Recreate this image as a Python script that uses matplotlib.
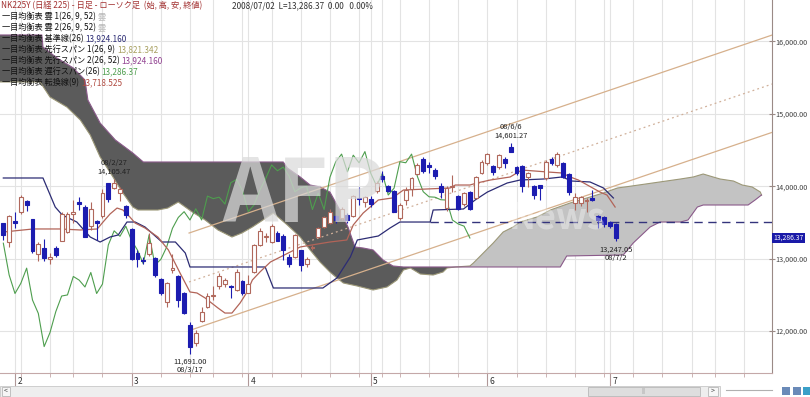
import numpy as np
import pandas as pd
import matplotlib
matplotlib.use('Agg')
import matplotlib.pyplot as plt
import matplotlib.transforms as mtrans
from matplotlib.patches import Rectangle

plt.rcParams['font.family'] = ['Noto Sans CJK JP', 'DejaVu Sans']

# trading days (index 0 = 2008/01/30, index 105 = 2008/07/02), continued for the cloud
holidays = pd.to_datetime(['2008-02-11', '2008-03-20', '2008-04-29', '2008-05-05',
                           '2008-05-06', '2008-07-21'])
days = pd.bdate_range('2008-01-30', '2008-08-20')
days = days[~days.isin(holidays)]

# daily candles
opens = [13490, 13235, 13520, 13640, 13800, 13545, 13065, 13145, 13000, 13155,
         13250, 13375, 13620, 13780, 13720, 13450, 13525, 13590, 14040, 13980,
         13905, 13730, 13410, 13085, 12980, 13065, 13015, 12715, 12400, 12850,
         12755, 12520, 12085, 11830, 12140, 12330, 12490, 12625, 12650, 12625,
         12570, 12695, 12530, 12820, 13190, 13300, 13235, 13360, 13315, 13030,
         13030, 13120, 12925, 13150, 13300, 13440, 13500, 13590, 13560, 13600,
         13590, 13840, 13790, 13820, 13940, 14140, 14005, 13940, 13560, 13810,
         13960, 14170, 14375, 14290, 14225, 14005, 13700, 13990, 13865, 13755,
         13925, 13835, 14190, 14325, 14275, 14270, 14375, 14540, 14265, 14275,
         14125, 14005, 14015, 14110, 14375, 14295, 14320, 14170, 13765, 13765,
         13800, 13835, 13590, 13580, 13505, 13480]
highs = [13500, 13600, 13650, 13880, 13810, 13550, 13235, 13270, 13080, 13170,
         13640, 13650, 13810, 13850, 13740, 13780, 13535, 13960, 14050, 14105.47,
         13985, 13740, 13420, 13120, 13020, 13350, 13030, 12730, 12680, 13065,
         12770, 12540, 12130, 12015, 12330, 12520, 12620, 12800, 12730, 12635,
         12860, 12710, 12775, 13200, 13420, 13350, 13480, 13380, 13340, 13060,
         13345, 13125, 13030, 13190, 13440, 13590, 13680, 13610, 13720, 13630,
         13880, 13985, 13870, 13860, 14070, 14215, 14020, 13950, 13770, 13990,
         14130, 14320, 14400, 14340, 14250, 14040, 14010, 14155, 13880, 13920,
         13940, 14140, 14360, 14460, 14290, 14440, 14400, 14601.27, 14280, 14300,
         14200, 14020, 14020, 14360, 14410, 14470, 14340, 14180, 13910, 13870,
         13835, 13950, 13600, 13590, 13520, 13490]
lows = [13260, 13165, 13430, 13620, 13660, 13080, 12970, 12970, 12925, 13030,
        13240, 13360, 13490, 13670, 13300, 13400, 13260, 13560, 13790, 13960,
        13800, 13560, 12980, 12880, 12930, 13035, 12750, 12500, 12340, 12800,
        12340, 12230, 11691.00, 11795, 12130, 12320, 12430, 12580, 12610, 12460,
        12560, 12500, 12520, 12800, 13170, 13230, 13220, 13240, 12985, 12890,
        13010, 12830, 12880, 13120, 13280, 13420, 13480, 13500, 13540, 13500,
        13570, 13740, 13720, 13720, 13910, 14065, 13920, 13640, 13540, 13740,
        13860, 14150, 14190, 14190, 14100, 13835, 13655, 13925, 13670, 13730,
        13670, 13820, 14170, 14300, 14150, 14240, 14250, 14470, 14150, 13920,
        13995, 13830, 13810, 14090, 14300, 14270, 14120, 13880, 13675, 13730,
        13640, 13800, 13420, 13440, 13430, 13247.05]
closes = [13330, 13590, 13490, 13850, 13740, 13100, 13200, 13005, 13030, 13050,
          13620, 13620, 13640, 13755, 13305, 13680, 13500, 13910, 13820, 14050,
          13960, 13605, 12990, 12990, 12970, 13215, 12775, 12520, 12660, 12870,
          12430, 12245, 11787, 11980, 12270, 12485, 12500, 12755, 12705, 12610,
          12810, 12520, 12650, 13190, 13385, 13310, 13450, 13250, 13120, 12930,
          13330, 12915, 12990, 13160, 13420, 13570, 13650, 13535, 13690, 13535,
          13865, 13830, 13850, 13755, 14050, 14095, 13940, 13650, 13745, 13950,
          14110, 14295, 14215, 14265, 14140, 13925, 13980, 14000, 13680, 13905,
          13680, 14125, 14340, 14445, 14200, 14430, 14325, 14480, 14180, 14005,
          14180, 13880, 13975, 14340, 14325, 14445, 14135, 13925, 13855, 13850,
          13815, 13810, 13535, 13480, 13450, 13286.37]

# ichimoku lines (bar index, price)
tenkan_k = [0, 5.1, 9.7, 13.2, 16.1, 17.1, 18.3, 19.5, 20.5, 21.7, 22.6, 24.3, 26.5, 28.3,
            30.3, 32.0, 33.2, 34.6, 36.8, 38.0, 39.2, 40.6, 41.8, 42.7, 44.0, 45.8, 50.9,
            52.9, 56.0, 58.9, 60.0, 61.7, 64.3, 66.7, 68.6, 76.6, 77.5, 80.0, 81.2, 83.5,
            86.9, 88.9, 93.3, 95.8, 97.2, 98.6, 102.3, 103.5, 104.9]
tenkan_v = [13369, 13411, 13411, 13397, 13411, 13507, 13618, 13700, 13673, 13576, 13493,
            13424, 13300, 13121, 12803, 12541, 12527, 12458, 12320, 12250, 12250, 12389,
            12541, 12706, 12817, 12955, 13162, 13190, 13231, 13259, 13466, 13631, 13811,
            13839, 13949, 13977, 14018, 14018, 14046, 14087, 14129, 14225, 14198, 14184,
            14129, 14087, 13921, 13880, 13714]
kijun_k = [0, 6.8, 8.9, 10.1, 12.6, 14.9, 16.6, 18.3, 19.7, 21.2, 22.6, 24.3, 27.2, 29.5,
           31.2, 32.0, 44.9, 46.3, 54.8, 57.2, 59.5, 60.7, 64.3, 66.3, 68.0, 73.2, 73.7,
           78.9, 80.9, 83.0, 86.4, 88.6, 92.6, 95.8, 97.5, 100.6, 102.9, 104.6]
kijun_v = [14115, 14115, 13714, 13604, 13507, 13300, 13231, 13300, 13328, 13507, 13507,
           13438, 13231, 13231, 13079, 12886, 12886, 12596, 12596, 12734, 13024, 13259,
           13314, 13424, 13507, 13507, 13673, 13687, 13811, 13921, 14046, 14087, 14101,
           14129, 14073, 14060, 13977, 13839]
span_a_k = [-0.6, 6.3, 8.0, 10.9, 13.2, 14.9, 16.6, 18.8, 20.5, 22.2, 23.1, 26.5, 28.2, 30.0,
            32.4, 34.6, 36.8, 39.2, 40.9, 42.7, 44.0, 46.3, 48.7, 50.9, 52.6, 54.3, 56.0,
            57.2, 58.3, 60.7, 63.4, 65.8, 67.5, 68.6, 69.8, 71.5, 73.7, 75.4, 76.1, 77.5,
            80.0, 80.6, 82.3, 84.0, 85.7, 87.4, 88.6, 91.5, 93.8, 97.2, 100.6, 102.9, 105.3,
            106.6, 116.1, 118.3, 120.0, 121.7, 122.9, 125.2, 126.7, 128.4, 129.8, 130.0]
span_a_v = [15441, 15441, 15233, 15095, 14916, 14709, 14405, 14129, 13908, 13714, 13673,
            13673, 13700, 13783, 13645, 13535, 13397, 13300, 13355, 13438, 13507, 13631,
            13466, 13300, 13121, 12955, 12817, 12734, 12665, 12623, 12568, 12610, 12706,
            12844, 12872, 12789, 12775, 12817, 12872, 12886, 12900, 12941, 13079, 13217,
            13369, 13438, 13507, 13576, 13673, 13770, 13852, 13908, 13977, 13991, 14101,
            14129, 14170, 14129, 14101, 14073, 14018, 13991, 13921, 13880]
span_b_k = [-0.6, 6.6, 6.8, 9.2, 12.0, 14.0, 14.5, 16.6, 19.2, 22.2, 24.0, 48.0, 48.7, 50.9,
            52.6, 54.3, 56.0, 57.7, 59.1, 60.3, 61.7, 63.4, 65.1, 66.8, 68.6, 77.1, 95.5,
            96.6, 106.3, 108.0, 110.9, 112.6, 116.1, 117.4, 119.0, 120.0, 127.7, 128.9, 130.0]
span_b_v = [16090, 16090, 15924, 15772, 15634, 15468, 15192, 14874, 14640, 14460, 14336,
            14336, 14253, 14129, 14018, 13991, 13921, 13673, 13438, 13162, 13148, 13121,
            12983, 12900, 12886, 12886, 12886, 13038, 13052, 13217, 13438, 13507, 13507,
            13535, 13714, 13742, 13742, 13811, 13880]
chikou_shift = 25

# drawn trend channel (bar index, price) and horizontal line
channel_k = [31.85, 131.85]
channel_upper = [13355, 16090]
channel_mid = [12679, 15413]
channel_lower_k = [32.5, 131.85]
channel_lower = [12025, 14746]
hline_level = 13507
hline_from = 73.2

legend_vals = {'kijun': '13,924.160', 'span1': '13,821.342', 'span2': '13,924.160',
               'chikou': '13,286.37', 'tenkan': '13,718.525'}
last_price = 13286.37
marks = [(19, 'high', '08/2/27'), (87, 'high', '08/6/6'),
         (32, 'low', '08/3/17'), (105, 'low', '08/7/2')]

opens, highs, lows, closes = map(np.array, (opens, highs, lows, closes))
k = np.arange(len(closes))

fig = plt.figure(figsize=(8.1, 3.97), dpi=100)
ax = fig.add_axes([0, 1 - 373 / 397, 772 / 810, 373 / 397])
ax.set_xlim(-0.57, 131.8)
ax.set_ylim(11422, 16573)

# grid: weekly verticals, 1000 horizontals
week_starts = [i for i in range(1, len(days)) if days[i].weekday() < days[i - 1].weekday() and i < 132]
month_starts = [i for i in range(1, 106) if days[i].month != days[i - 1].month]
ax.set_xticks(month_starts)
ax.set_xticks(week_starts, minor=True)
ax.set_xticklabels([])
for x in sorted(set(week_starts + month_starts)):
    ax.axvline(x, color='#e3e3e3', lw=0.8, zorder=0)
yt = [12000, 13000, 14000, 15000, 16000]
ax.set_yticks(yt)
ax.set_yticklabels([f'{v:,.2f}' for v in yt])
for v in yt:
    ax.axhline(v, color='#e3e3e3', lw=0.8, zorder=0)

# cloud
ak, av = np.array(span_a_k), np.array(span_a_v)
bk, bv = np.array(span_b_k), np.array(span_b_v)
m_a, m_b = ak <= 77.5, bk <= 77.5
ax.fill(np.r_[bk[m_b], ak[m_a][::-1]], np.r_[bv[m_b], av[m_a][::-1]],
        color='#5b5b5b', lw=0, zorder=1)
m_a, m_b = ak >= 77.5, bk >= 77.1
ax.fill(np.r_[ak[m_a], bk[m_b][::-1]], np.r_[av[m_a], bv[m_b][::-1]],
        color='#c3c3c3', lw=0, zorder=1)
ax.plot(ak, av, color='#9c9878', lw=0.8, zorder=2)
ax.plot(bk, bv, color='#8a5a8a', lw=0.8, zorder=2)

# channel lines
ax.plot(channel_k, channel_upper, color='#d6b08c', lw=0.9, zorder=3)
ax.plot(channel_k, channel_mid, color='#d0b09a', lw=0.9, ls=(0, (1.5, 2.5)), zorder=3)
ax.plot(channel_lower_k, channel_lower, color='#d6b08c', lw=0.9, zorder=3)
ax.hlines(hline_level, hline_from, 131.8, colors='#34347c', lw=1.0,
          linestyles=(0, (6, 4)), zorder=3)

# ichimoku lines
ax.plot(k[:-chikou_shift], closes[chikou_shift:], color='#4e9e4e', lw=0.8, zorder=4)
ax.plot(kijun_k, kijun_v, color='#2c2c74', lw=0.9, zorder=4)
ax.plot(tenkan_k, tenkan_v, color='#b26458', lw=0.9, zorder=4)

# candles
up_col, dn_col = '#b0685c', '#1c1cb0'
up = closes >= opens
lo = np.minimum(opens, closes)
hgt = np.maximum(np.abs(closes - opens), 12)
ax.vlines(k, lows, highs, colors=np.where(up, up_col, dn_col), lw=0.8, zorder=5)
ax.bar(k[up], hgt[up], 0.66, bottom=lo[up], facecolor='white', edgecolor=up_col, lw=0.8, zorder=6)
ax.bar(k[~up], hgt[~up], 0.66, bottom=lo[~up], facecolor=dn_col, edgecolor=dn_col, lw=0.8, zorder=6)

# high / low marks
for i, kind, date in marks:
    if kind == 'high':
        val, o1, o2 = highs[i], 5, 11.5
    else:
        val, o1, o2 = lows[i], -6, -12
    ax.annotate(f'{val:,.2f}', (i, val), xytext=(0, o1), textcoords='offset points',
                ha='center', va='center', fontsize=5.4, color='#222222', zorder=8)
    ax.annotate(date, (i, val), xytext=(0, o2), textcoords='offset points',
                ha='center', va='center', fontsize=5.4, color='#222222', zorder=8)

# watermark
ax.text(51.5, 13850, 'AFP', fontsize=62, fontweight='bold', style='italic', color='#dadada',
        alpha=0.72, ha='center', va='center', zorder=7)
ax.text(95, 13560, 'News', fontsize=26, fontweight='bold', color='white',
        alpha=0.35, ha='center', va='center', zorder=7)

# axes styling
for s in ('left', 'top'):
    ax.spines[s].set_visible(False)
ax.spines['right'].set_color('#9a8a86')
ax.spines['bottom'].set_color('#c4a8a8')
ax.yaxis.tick_right()
ax.tick_params(axis='y', direction='inout', length=4, pad=0.5, labelsize=5.2,
               colors='#9a8a86', labelcolor='#404040')
ax.tick_params(axis='x', which='major', direction='out', length=10, color='#b09898')
ax.tick_params(axis='x', which='minor', direction='out', length=3, color='#c4a8a8')
xform = mtrans.blended_transform_factory(ax.transData, ax.transAxes)
for m in month_starts:
    ax.text(m + 0.4, -0.022, str(days[m].month), transform=xform, fontsize=6,
            ha='left', va='center', color='#303030')

# last price box
yform = mtrans.blended_transform_factory(ax.transAxes, ax.transData)
ax.text(1.002, last_price, f'{last_price:,.2f}', transform=yform, fontsize=4.9,
        color='white', va='center', ha='left', clip_on=False,
        bbox=dict(boxstyle='square,pad=0.2', facecolor='#1a1aa8', edgecolor='none'))

# header / legend rows
fs = 5.9
def row(y, parts, x=2):
    t = fig.text(x / 810, 1 - y / 397, parts[0][0], color=parts[0][1], fontsize=fs,
                 va='center', zorder=10)
    for s, c in parts[1:]:
        t = ax.annotate(s, xy=(1, 0.5), xycoords=t, va='center', ha='left',
                        color=c, fontsize=fs, zorder=10)

row(6, [('NK225Y (日経 225) - 日足 - ローソク足  (始, 高, 安, 終値)', '#a23030')], x=1)
row(6, [('2008/07/02  L=13,286.37  0.00   0.00%', '#303030')], x=232)
row(17, [('一目均衡表 雲 1(26, 9, 52) ', '#111111'), ('雲', '#b8b8b8')])
row(28, [('一目均衡表 雲 2(26, 9, 52) ', '#111111'), ('雲', '#b8b8b8')])
row(39, [('一目均衡表 基準線(26) ', '#111111'), (legend_vals['kijun'], '#2c2c74')])
row(50, [('一目均衡表 先行スパン 1(26, 9) ', '#111111'), (legend_vals['span1'], '#a8a060')])
row(61, [('一目均衡表 先行スパン 2(26, 52) ', '#111111'), (legend_vals['span2'], '#904090')])
row(72, [('一目均衡表 遅行スパン(26) ', '#111111'), (legend_vals['chikou'], '#4e9e4e')])
row(83, [('一目均衡表 転換線(9) ', '#111111'), (legend_vals['tenkan'], '#b04a40')])

# bottom scroll bar
fh = 397
def frect(x0, y0, w, h, fc, ec='none'):
    fig.patches.append(Rectangle((x0 / 810, 1 - (y0 + h) / fh), w / 810, h / fh,
                                 transform=fig.transFigure, facecolor=fc, edgecolor=ec, lw=0.6))
frect(0, 386, 720, 11, '#eeeeee', '#c8c8c8')
frect(588, 387, 112, 9, '#dedede', '#b8b8b8')
frect(2, 387, 8, 9, '#f6f6f6', '#b8b8b8')
frect(708, 387, 10, 9, '#f6f6f6', '#b8b8b8')
fig.text(6 / 810, 1 - 391.5 / fh, '<', fontsize=5, ha='center', va='center', color='#404040')
fig.text(713 / 810, 1 - 391.5 / fh, '>', fontsize=5, ha='center', va='center', color='#404040')
fig.text(644 / 810, 1 - 391.5 / fh, '|||', fontsize=4, ha='center', va='center', color='#a0a0a0')
fig.lines.append(plt.Line2D([726 / 810, 772 / 810], [1 - 390 / fh] * 2,
                            transform=fig.transFigure, color='#b0b0b0', lw=0.8))
frect(782, 387, 8, 8, '#6a8ab8')
frect(793, 387, 8, 8, '#6a8ab8')
frect(803, 387, 7, 8, '#3aa0c8')

fig.savefig('out.png', dpi=100)
